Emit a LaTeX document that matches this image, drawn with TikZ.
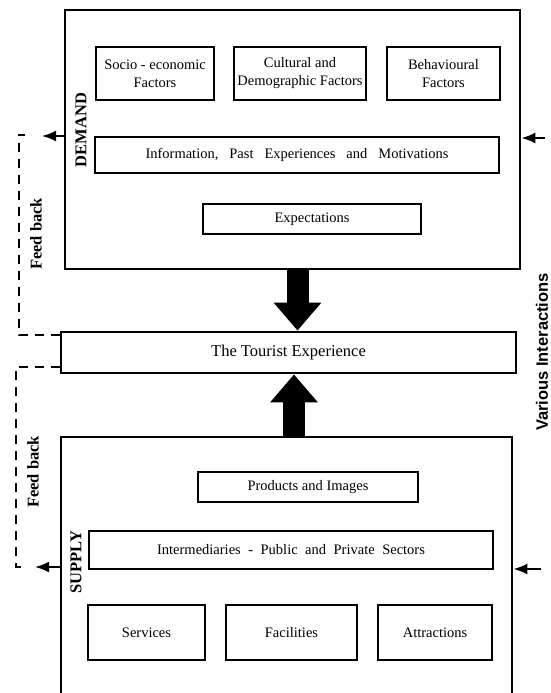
\documentclass[tikz,border=0pt]{standalone}
\usepackage{fontspec}
\setmainfont{Liberation Serif}
\setsansfont{Liberation Sans}
\usepackage{tikz}
\usetikzlibrary{positioning}
\usetikzlibrary{arrows.meta}
\pgfdeclarelayer{nodelayer}
\pgfdeclarelayer{edgelayer}
\pgfsetlayers{nodelayer,edgelayer,main}
\tikzset{
    none/.style = {inner sep=0pt},
    outer/.style = {draw, line width=2.8pt, inner sep=0pt, font=\fontsize{16.5}{19}\selectfont},
    box/.style = {draw, line width=1.8pt, inner sep=0pt, align=center, font=\fontsize{14.5}{18}\selectfont},
    side/.style = {inner sep=0pt, rotate=90, font=\bfseries\fontsize{16.5}{19}\selectfont},
    feed/.style = {dash pattern=on 9pt off 7pt, line width=2.2pt},
    flow/.style = {line width=22pt, -{Triangle[length=28pt,width=46pt]}},
    inter/.style = {line width=2pt, -{Latex[length=14pt,width=11pt]}}
}

\begin{document}
\begin{tikzpicture}[x=1pt, y=-1pt]
  \useasboundingbox (0, 0) rectangle (550, 693);
  \begin{pgfonlayer}{nodelayer}
    \clip (0, 0) rectangle (550, 693);
    % demand
    \node [style=outer, minimum width=455pt, minimum height=259pt] (0) at (292.5, 139.5) {};
    \node [style=box, minimum width=118pt, minimum height=53pt] (1) at (155, 73.5) {Socio - economic\\Factors};
    \node [style=box, minimum width=132pt, minimum height=53pt] (2) at (300, 73.5) {Cultural and\\Demographic Factors};
    \node [style=box, minimum width=113pt, minimum height=53pt] (3) at (443.5, 73.5) {Behavioural\\Factors};
    \node [style=box, minimum width=404pt, minimum height=36pt] (4) at (297, 155) {\spaceskip=11pt Information, Past Experiences and Motivations};
    \node [style=box, minimum width=218pt, minimum height=30pt] (5) at (312, 219) {Expectations};
    \node [style=side] (6) at (81, 130) {DEMAND};
    % experience
    \node [style=outer, minimum width=455pt, minimum height=41pt] (7) at (288.5, 352.5) {The Tourist Experience};
    % supply
    \node [style=outer, minimum width=451pt, minimum height=268pt] (8) at (286.5, 571) {};
    \node [style=box, minimum width=220pt, minimum height=30pt] (9) at (308, 487) {Products and Images};
    \node [style=box, minimum width=404pt, minimum height=38pt] (10) at (291, 550) {\spaceskip=7.5pt Intermediaries - Public and Private Sectors};
    \node [style=box, minimum width=117pt, minimum height=55pt] (11) at (146.5, 632.5) {Services};
    \node [style=box, minimum width=131pt, minimum height=55pt] (12) at (291.5, 632.5) {Facilities};
    \node [style=box, minimum width=114pt, minimum height=55pt] (13) at (435, 632.5) {Attractions};
    \node [style=side] (14) at (76, 562) {SUPPLY};
    % side labels
    \node [style=side] (15) at (36, 234) {Feed back};
    \node [style=side] (16) at (33, 472) {Feed back};
    \node [style=side, font=\sffamily\bfseries\fontsize{16.5}{19}\selectfont] (17) at (542, 352) {Various Interactions};
    % ends
    \node [style=none] (18) at (42, 136) {};
    \node [style=none] (19) at (25, 135) {};
    \node [style=none] (20) at (19, 135) {};
    \node [style=none] (21) at (19, 335) {};
    \node [style=none] (22) at (35, 567) {};
    \node [style=none] (23) at (24, 567) {};
    \node [style=none] (24) at (16, 567) {};
    \node [style=none] (25) at (16, 367) {};
    \node [style=none] (26) at (545, 138) {};
    \node [style=none] (27) at (541, 569) {};
    \node [style=none] (28) at (297.5, 300) {};
    \node [style=none] (29) at (294, 400) {};
  \end{pgfonlayer}
  \begin{pgfonlayer}{edgelayer}
    \draw [style=flow] (28 |- 0.south) to (28 |- 7.north);
    \draw [style=flow] (29 |- 8.north) to (29 |- 7.south);
    \draw [style=inter] (18 -| 0.west) to (18.center);
    \draw [style=inter] (22 -| 8.west) to (22.center);
    \draw [style=inter] (26.center) to (26 -| 0.east);
    \draw [style=inter] (27.center) to (27 -| 8.east);
    \draw [style=feed] (21 -| 7.west) to (21.center) to (20.center) to (19.center);
    \draw [style=feed] (25 -| 7.west) to (25.center) to (24.center) to (23.center);
  \end{pgfonlayer}
\end{tikzpicture}
\end{document}
